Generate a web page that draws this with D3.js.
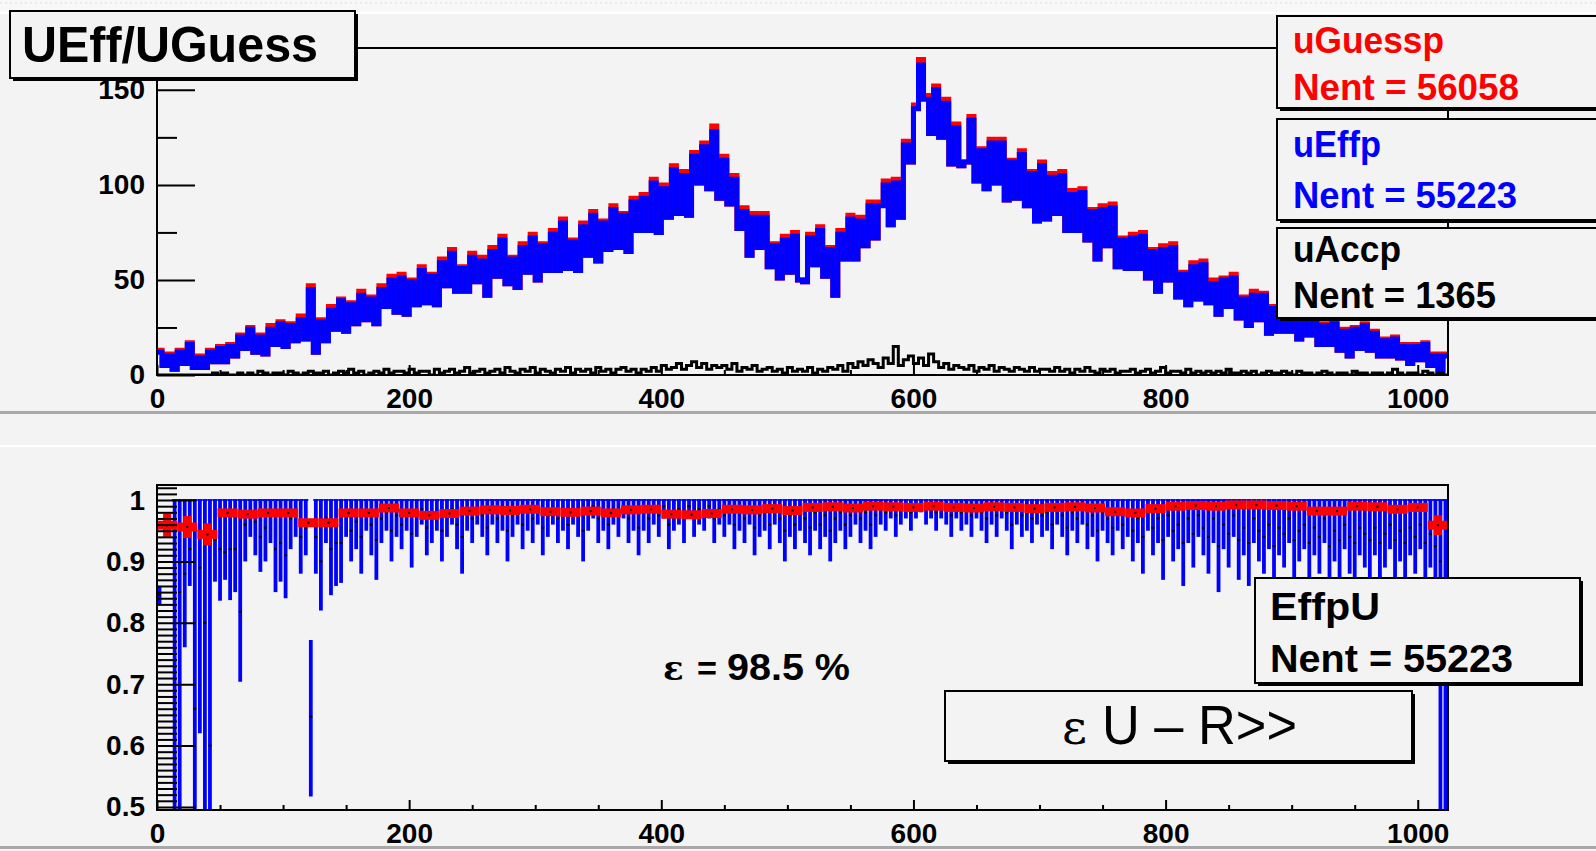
<!DOCTYPE html>
<html><head><meta charset="utf-8">
<script src="https://cdn.jsdelivr.net/npm/d3@7"></script>
<style>html,body{margin:0;padding:0;background:#f3f3f3;overflow:hidden}svg{display:block}</style>
</head><body><svg id="c" width="1596" height="851"></svg>
<script>
// ---------------- DATA ----------------
// top pad: histograms over 0..1024, 256 bins of width 4
const xDomain = [0, 1024];
const uGuessp = [
 13,5,11,3,13,6,17,4,10,4,13,7,15,7,16,10,
 21,14,25,12,21,11,26,16,28,15,27,18,31,19,47,12,
 29,18,36,24,40,23,38,27,44,29,41,27,47,36,52,33,
 53,32,50,37,57,38,53,37,61,47,66,44,57,44,64,49,
 62,42,67,52,73,48,62,46,69,54,74,50,69,55,76,55,
 82,56,71,55,80,63,86,60,81,66,89,67,85,65,93,76,
 95,76,103,75,100,83,110,85,107,84,117,101,122,98,131,93,
 115,90,105,77,88,63,85,67,85,57,69,51,73,54,75,50,
 49,74,58,78,52,67,42,76,61,84,61,83,68,91,72,91,
 102,79,103,83,123,112,142,166,147,127,152,125,145,111,132,110,
 112,136,102,119,98,124,101,124,92,113,93,118,89,107,81,112,
 82,106,85,107,76,97,76,98,71,87,61,89,68,90,57,72,
 56,74,56,75,51,66,44,68,50,69,41,54,37,59,40,60,
 38,50,32,51,36,53,30,41,26,44,29,43,22,36,23,39,
 23,31,19,33,21,33,16,27,16,28,13,24,10,25,14,27,
 13,23,10,19,10,20,9,16,6,16,8,17,5,11,2,11];
const uEffp = [
 12,5,10,3,12,6,16,4,9,4,12,7,14,7,15,10,
 20,14,24,12,20,11,24,16,27,15,26,18,29,19,45,12,
 28,18,34,24,39,23,37,27,42,29,40,27,45,36,50,33,
 51,32,49,37,55,38,52,37,59,47,64,44,56,44,62,49,
 60,42,65,52,71,48,61,46,67,54,72,50,68,55,74,55,
 80,56,70,55,78,63,84,60,80,66,87,67,84,65,91,76,
 93,76,101,75,98,83,108,85,105,84,115,101,120,98,128,93,
 113,90,103,77,86,63,83,67,83,57,68,51,71,54,73,50,
 49,72,58,76,52,66,42,74,61,82,61,81,68,89,72,89,
 100,79,101,83,121,112,140,163,145,127,150,125,143,111,130,110,
 112,134,102,118,98,122,101,122,92,112,93,116,89,106,81,110,
 82,104,85,105,76,95,76,96,71,86,61,87,68,88,57,71,
 56,72,56,73,51,65,44,66,50,67,41,53,37,57,40,58,
 38,48,32,50,36,51,30,40,26,42,29,42,22,35,23,38,
 23,30,19,32,21,32,16,26,16,27,13,23,10,24,14,26,
 13,22,10,18,10,19,9,15,6,15,8,16,5,10,2,10];
const uAccp = [
 0,0,0,0,0,0,0,0,0,0,0,1,0,1,0,0,
 1,0,1,0,2,1,0,1,1,0,2,1,0,1,2,1,
 1,2,0,1,2,1,3,1,2,0,1,2,1,3,1,2,
 2,1,3,1,2,2,0,3,1,2,3,1,2,4,1,2,
 3,1,2,3,1,4,2,1,3,2,4,1,3,2,1,3,
 2,4,1,3,2,3,1,4,2,3,1,3,4,2,3,1,
 3,2,4,2,5,3,4,6,3,5,7,4,6,3,5,4,
 5,3,6,2,4,3,5,2,3,4,2,3,1,4,2,3,
 2,4,1,3,2,4,3,5,2,6,4,7,5,8,6,4,
 9,6,15,5,8,10,6,9,5,11,7,4,6,3,5,4,
 3,5,2,4,3,5,2,4,3,2,4,3,2,4,2,3,
 3,2,4,2,3,1,3,2,4,2,1,3,2,3,1,2,
 2,3,1,2,3,1,2,4,1,2,2,1,3,1,2,1,
 2,1,2,1,3,1,1,2,1,2,0,1,2,1,1,2,
 1,0,2,1,1,0,1,2,1,0,1,1,0,2,1,1,
 0,1,1,0,1,3,1,0,1,1,0,2,1,0,1,0];
const topYTicks = [0, 50, 100, 150];
const topYMinor = [25, 75, 125];
const xTicks = [0, 200, 400, 600, 800, 1000];

// bottom pad: efficiency EffpU, 256 fine bins (width 4): lower edge, value, upper edge
const effLow = [
 0.83,null,null,0.45,0.40,0.76,0.86,0.40,0.62,0.40,0.40,0.867,0.836,0.87,0.837,0.85,
 0.704,0.90,0.94,0.91,0.883,0.90,0.93,0.85,0.867,0.84,0.92,0.94,0.88,0.91,0.517,0.88,
 0.82,0.93,0.845,0.86,0.865,0.94,0.90,0.92,0.88,0.95,0.91,0.87,0.93,0.95,0.90,0.94,
 0.92,0.95,0.89,0.94,0.96,0.91,0.93,0.95,0.90,0.94,0.96,0.92,0.88,0.95,0.93,0.96,
 0.94,0.91,0.96,0.93,0.95,0.90,0.94,0.96,0.92,0.95,0.93,0.96,0.91,0.94,0.96,0.93,
 0.95,0.92,0.96,0.94,0.90,0.95,0.97,0.93,0.95,0.92,0.96,0.94,0.97,0.93,0.95,0.91,
 0.95,0.93,0.96,0.94,0.97,0.92,0.95,0.96,0.93,0.97,0.94,0.96,0.95,0.97,0.93,0.96,
 0.94,0.96,0.92,0.95,0.93,0.96,0.91,0.94,0.95,0.92,0.96,0.93,0.90,0.94,0.92,0.95,
 0.93,0.91,0.95,0.92,0.94,0.90,0.93,0.95,0.92,0.94,0.96,0.93,0.95,0.92,0.94,0.96,
 0.95,0.97,0.94,0.96,0.97,0.95,0.97,0.98,0.96,0.97,0.95,0.97,0.96,0.94,0.97,0.95,
 0.96,0.94,0.97,0.95,0.93,0.96,0.94,0.97,0.95,0.92,0.96,0.94,0.95,0.93,0.96,0.94,
 0.95,0.92,0.96,0.94,0.91,0.95,0.93,0.96,0.92,0.94,0.90,0.95,0.93,0.91,0.95,0.92,
 0.94,0.90,0.93,0.88,0.95,0.91,0.93,0.87,0.94,0.90,0.92,0.86,0.93,0.89,0.94,0.91,
 0.88,0.93,0.85,0.92,0.89,0.94,0.87,0.91,0.86,0.93,0.90,0.88,0.92,0.85,0.91,0.89,
 0.93,0.87,0.90,0.92,0.86,0.91,0.88,0.93,0.85,0.90,0.87,0.92,0.88,0.86,0.91,0.89,
 0.87,0.91,0.86,0.89,0.92,0.87,0.90,0.86,0.91,0.88,0.92,0.86,0.89,0.85,0.40,0.40];
const effVal = [
 0.845,null,null,0.66,0.85,0.88,0.92,0.66,0.89,0.80,0.60,0.935,0.92,0.915,0.92,0.92,
 0.818,0.96,0.98,0.965,0.94,0.955,0.975,0.92,0.93,0.91,0.97,0.975,0.94,0.955,0.647,0.94,
 0.90,0.97,0.92,0.93,0.93,0.975,0.95,0.965,0.94,0.98,0.96,0.935,0.97,0.98,0.95,0.975,
 0.96,0.98,0.945,0.975,0.985,0.955,0.97,0.98,0.95,0.975,0.985,0.96,0.94,0.98,0.97,0.985,
 0.975,0.955,0.985,0.97,0.98,0.95,0.975,0.985,0.96,0.98,0.97,0.985,0.955,0.975,0.985,0.97,
 0.98,0.96,0.985,0.975,0.95,0.98,0.99,0.97,0.98,0.96,0.985,0.975,0.99,0.97,0.98,0.955,
 0.98,0.97,0.985,0.975,0.99,0.96,0.98,0.985,0.97,0.99,0.975,0.985,0.98,0.99,0.97,0.985,
 0.975,0.985,0.96,0.98,0.97,0.985,0.955,0.975,0.98,0.96,0.985,0.97,0.95,0.975,0.96,0.98,
 0.97,0.955,0.98,0.96,0.975,0.95,0.97,0.98,0.96,0.975,0.985,0.97,0.98,0.96,0.975,0.985,
 0.98,0.99,0.975,0.985,0.99,0.98,0.99,0.993,0.985,0.99,0.98,0.99,0.985,0.975,0.99,0.98,
 0.985,0.975,0.99,0.98,0.97,0.985,0.975,0.99,0.98,0.96,0.985,0.975,0.98,0.97,0.985,0.975,
 0.98,0.96,0.985,0.975,0.955,0.98,0.97,0.985,0.96,0.975,0.95,0.98,0.97,0.955,0.98,0.96,
 0.975,0.95,0.97,0.94,0.98,0.955,0.97,0.935,0.975,0.95,0.96,0.93,0.97,0.945,0.975,0.955,
 0.94,0.97,0.925,0.96,0.945,0.975,0.935,0.955,0.93,0.97,0.95,0.94,0.96,0.925,0.955,0.945,
 0.97,0.935,0.95,0.96,0.93,0.955,0.94,0.97,0.925,0.95,0.935,0.96,0.94,0.93,0.955,0.945,
 0.935,0.955,0.93,0.945,0.96,0.935,0.95,0.93,0.955,0.94,0.96,0.93,0.945,0.925,0.90,0.80];
const effHigh = [
 0.86,null,null,1,1,1,1,1,1,1,1,1,1,1,1,1,
 1,1,1,1,1,1,1,1,1,1,1,1,1,1,0.772,1,
 1,1,1,1,1,1,1,1,1,1,1,1,1,1,1,1,
 1,1,1,1,1,1,1,1,1,1,1,1,1,1,1,1,
 1,1,1,1,1,1,1,1,1,1,1,1,1,1,1,1,
 1,1,1,1,1,1,1,1,1,1,1,1,1,1,1,1,
 1,1,1,1,1,1,1,1,1,1,1,1,1,1,1,1,
 1,1,1,1,1,1,1,1,1,1,1,1,1,1,1,1,
 1,1,1,1,1,1,1,1,1,1,1,1,1,1,1,1,
 1,1,1,1,1,1,1,1,1,1,1,1,1,1,1,1,
 1,1,1,1,1,1,1,1,1,1,1,1,1,1,1,1,
 1,1,1,1,1,1,1,1,1,1,1,1,1,1,1,1,
 1,1,1,1,1,1,1,1,1,1,1,1,1,1,1,1,
 1,1,1,1,1,1,1,1,1,1,1,1,1,1,1,1,
 1,1,1,1,1,1,1,1,1,1,1,1,1,1,1,1,
 1,1,1,1,1,1,1,1,1,1,1,1,1,1,1,1];
// coarse efficiency (64 bins of width 16)
const effCoarse = [
 0.959,0.956,0.944,0.979,0.977,0.979,0.979,0.963,0.963,0.979,0.979,0.987,0.979,0.975,0.978,0.982,
 0.984,0.983,0.985,0.981,0.980,0.982,0.979,0.984,0.985,0.977,0.976,0.978,0.985,0.984,0.986,0.983,
 0.988,0.989,0.987,0.990,0.989,0.988,0.990,0.988,0.987,0.989,0.988,0.986,0.988,0.989,0.987,0.981,
 0.979,0.986,0.990,0.991,0.990,0.992,0.992,0.991,0.990,0.982,0.982,0.990,0.989,0.985,0.988,0.959];
const effCoarseErr = [
 0.019,0.018,0.018,0.004,0.004,0.004,0.004,0.006,0.006,0.004,0.004,0.004,0.004,0.004,0.004,0.004,
 0.004,0.004,0.004,0.004,0.004,0.004,0.004,0.004,0.004,0.004,0.004,0.004,0.004,0.004,0.004,0.004,
 0.004,0.004,0.004,0.004,0.004,0.004,0.004,0.004,0.004,0.004,0.004,0.004,0.004,0.004,0.004,0.004,
 0.004,0.004,0.004,0.004,0.004,0.004,0.004,0.004,0.004,0.004,0.004,0.004,0.004,0.004,0.004,0.016];
const botYMajor = [0.5, 0.6, 0.7, 0.8, 0.9, 1.0];
const botYLabels = ["0.5", "0.6", "0.7", "0.8", "0.9", "1"];
const botYMinor = [0.51,0.52,0.53,0.54,0.55,0.56,0.57,0.58,0.59,0.61,0.62,0.63,0.64,0.65,0.66,0.67,0.68,0.69,
 0.71,0.72,0.73,0.74,0.75,0.76,0.77,0.78,0.79,0.81,0.82,0.83,0.84,0.85,0.86,0.87,0.88,0.89,
 0.91,0.92,0.93,0.94,0.95,0.96,0.97,0.98,0.99,1.01,1.02];
const xMinor = [50,100,150,250,300,350,450,500,550,650,700,750,850,900,950];

const titleText = "UEff/UGuess";
const legendTop = [
  {name: "uGuessp", nent: "Nent = 56058", color: "#ff0000"},
  {name: "uEffp", nent: "Nent = 55223", color: "#0000ff"},
  {name: "uAccp", nent: "Nent = 1365", color: "#000000"}];
const effText = "98.5 %";

// ---------------- DRAW ----------------
const F = "'Liberation Sans', Arial, Helvetica, sans-serif";
const BG = "#f3f3f3";
const svg = d3.select("#c");
svg.append("rect").attr("width",1596).attr("height",851).attr("fill",BG);
svg.append("rect").attr("x",0).attr("y",0).attr("width",1596).attr("height",12).attr("fill","#f8f8f8");
svg.append("line").attr("x1",0).attr("x2",1596).attr("y1",3).attr("y2",3).attr("stroke","#d8d8d8").attr("stroke-dasharray","2,3");
svg.append("rect").attr("x",0).attr("y",12).attr("width",1596).attr("height",2).attr("fill","#ffffff");
svg.append("rect").attr("x",0).attr("y",411).attr("width",1596).attr("height",3).attr("fill","#a8a8a8");
svg.append("rect").attr("x",0).attr("y",445).attr("width",1596).attr("height",2).attr("fill","#ffffff");
svg.append("rect").attr("x",0).attr("y",846).attr("width",1596).attr("height",3).attr("fill","#a8a8a8");

const defs = svg.append("defs");
const xT = d3.scaleLinear().domain(xDomain).range([157,1448]);
const yT = d3.scaleLinear().domain([0,172]).range([375,48]);
const xB = d3.scaleLinear().domain(xDomain).range([157,1448]);
const yB = d3.scaleLinear().domain([0.495,1.0245]).range([810,485]);
defs.append("clipPath").attr("id","cT").append("rect").attr("x",157).attr("y",48).attr("width",1291).attr("height",327);
defs.append("clipPath").attr("id","cB").append("rect").attr("x",157).attr("y",485).attr("width",1291).attr("height",325);

function stepPts(arr, w){ const p = arr.map((v,i)=>[i*w, v]); p.push([arr.length*w, arr[arr.length-1]]); return p; }
const stepT = d3.line().x(d=>xT(d[0])).y(d=>yT(d[1])).curve(d3.curveStepAfter);

const gT = svg.append("g").attr("clip-path","url(#cT)");
gT.append("path").attr("d", stepT(stepPts(uGuessp,4))).attr("fill","none").attr("stroke","#ff0000").attr("stroke-width",5).attr("stroke-linejoin","miter");
gT.append("path").attr("d", stepT(stepPts(uEffp,4))).attr("fill","none").attr("stroke","#0000ff").attr("stroke-width",5).attr("stroke-linejoin","miter");
gT.append("path").attr("d", stepT(stepPts(uAccp,4))).attr("fill","none").attr("stroke","#000000").attr("stroke-width",3);

function styleAxis(g){
  g.select(".domain").remove();
  g.attr("font-family",F).attr("font-size",28).attr("font-weight","bold");
  g.selectAll("line").attr("stroke","#000").attr("stroke-width",2);
  g.selectAll("text").attr("fill","#000");
}
svg.append("g").attr("transform","translate(157,0)")
  .call(d3.axisLeft(yT).tickValues(topYTicks).tickSize(-38).tickPadding(12).tickFormat(d3.format("d"))).call(styleAxis);
svg.append("g").attr("transform","translate(157,0)")
  .call(d3.axisLeft(yT).tickValues(topYMinor).tickSize(-20).tickFormat("")).call(styleAxis);
svg.append("g").attr("transform","translate(0,375)")
  .call(d3.axisBottom(xT).tickValues(xTicks).tickSize(-10).tickPadding(13).tickFormat(d3.format("d"))).call(styleAxis);
svg.append("g").attr("transform","translate(0,375)")
  .call(d3.axisBottom(xT).tickValues(xMinor).tickSize(-5).tickFormat("")).call(styleAxis);
svg.append("rect").attr("x",157).attr("y",48).attr("width",1291).attr("height",327).attr("fill","none").attr("stroke","#000").attr("stroke-width",2);

// bottom pad
const gB = svg.append("g").attr("clip-path","url(#cB)");
const fine = effLow.map((l,i)=>({i, l, v: effVal[i], h: effHigh[i]})).filter(d=>d.l!=null);
gB.selectAll("line.err").data(fine).join("line")
  .attr("x1",d=>xB(d.i*4+2)).attr("x2",d=>xB(d.i*4+2))
  .attr("y1",d=>yB(d.l)).attr("y2",d=>yB(d.h))
  .attr("stroke","#0000ff").attr("stroke-width",3.8);
gB.selectAll("line.cap").data(fine.filter(d=>d.h===1)).join("line")
  .attr("x1",d=>xB(d.i*4)).attr("x2",d=>xB(d.i*4+4))
  .attr("y1",d=>yB(d.h)).attr("y2",d=>yB(d.h))
  .attr("stroke","#0000ff").attr("stroke-width",2);
gB.selectAll("rect.dot").data(fine).join("rect")
  .attr("x",d=>xB(d.i*4+2)-1.5).attr("y",d=>yB(d.v)-1).attr("width",3).attr("height",2).attr("fill","#000");
const coarse = effCoarse.map((v,j)=>({j, v, e: effCoarseErr[j]}));
gB.selectAll("line.rh").data(coarse).join("line")
  .attr("x1",d=>xB(d.j*16)).attr("x2",d=>xB(d.j*16+16))
  .attr("y1",d=>yB(d.v)).attr("y2",d=>yB(d.v))
  .attr("stroke","#ff0000").attr("stroke-width",9);
gB.selectAll("line.rv").data(coarse).join("line")
  .attr("x1",d=>xB(d.j*16+8)).attr("x2",d=>xB(d.j*16+8))
  .attr("y1",d=>yB(d.v-d.e)).attr("y2",d=>yB(d.v+d.e))
  .attr("stroke","#ff0000").attr("stroke-width",8);
gB.selectAll("rect.cd").data(coarse).join("rect")
  .attr("x",d=>xB(d.j*16+8)-1).attr("y",d=>yB(d.v)-1).attr("width",2).attr("height",2).attr("fill","#000");

svg.append("g").attr("transform","translate(157,0)")
  .call(d3.axisLeft(yB).tickValues(botYMajor).tickSize(-39).tickPadding(12).tickFormat((d,i)=>botYLabels[i])).call(styleAxis);
svg.append("g").attr("transform","translate(157,0)")
  .call(d3.axisLeft(yB).tickValues(botYMinor).tickSize(-20).tickFormat("")).call(styleAxis);
svg.append("g").attr("transform","translate(0,810)")
  .call(d3.axisBottom(xB).tickValues(xTicks).tickSize(-10).tickPadding(13).tickFormat(d3.format("d"))).call(styleAxis);
svg.append("g").attr("transform","translate(0,810)")
  .call(d3.axisBottom(xB).tickValues(xMinor).tickSize(-5).tickFormat("")).call(styleAxis);
svg.append("rect").attr("x",157).attr("y",485).attr("width",1291).attr("height",325).attr("fill","none").attr("stroke","#000").attr("stroke-width",2);

// boxes
function box(x,y,w,h){
  svg.append("rect").attr("x",x+3).attr("y",y+3).attr("width",w).attr("height",h).attr("fill","#000");
  svg.append("rect").attr("x",x).attr("y",y).attr("width",w).attr("height",h).attr("fill",BG).attr("stroke","#000").attr("stroke-width",2);
}
function txt(s,x,y,size,opts){
  opts = opts||{};
  const t = svg.append("text").attr("x",x).attr("y",y).attr("font-family",opts.family||F)
    .attr("font-size",size).attr("font-weight",opts.weight||"bold").attr("fill",opts.color||"#000")
    .attr("text-anchor",opts.anchor||"start").text(s);
  if(opts.len) t.attr("textLength",opts.len).attr("lengthAdjust","spacingAndGlyphs");
  return t;
}
box(10,11,345,67);
txt(titleText,22,62,50,{len:296});

const legBoxes = [[16,92,53,100,151,226],[119,101,157,208,88,224],[228,90,262,308,108,203]];
legendTop.forEach((L,k)=>{
  const b = legBoxes[k];
  box(1277,b[0],400,b[1]);
  txt(L.name,1293,b[2],36,{color:L.color,len:b[4]});
  txt(L.nent,1293,b[3],36,{color:L.color,len:b[5]});
});

box(1255,578,325,105);
txt("EffpU",1270,620,38,{len:110});
txt("Nent = 55223",1270,672,38,{len:243});

txt("\u03b5",663,680,34,{family:"'DejaVu Serif', serif",weight:"bold"});
txt("=",697,680,34,{len:20});
txt(effText,727,680,36,{len:123});

box(945,691,467,70);
txt("\u03b5",1062,744,48,{family:"'DejaVu Serif', serif",weight:"normal"});
txt("U \u2013 R>>",1102,744,56,{weight:"normal",len:195});
</script></body></html>
